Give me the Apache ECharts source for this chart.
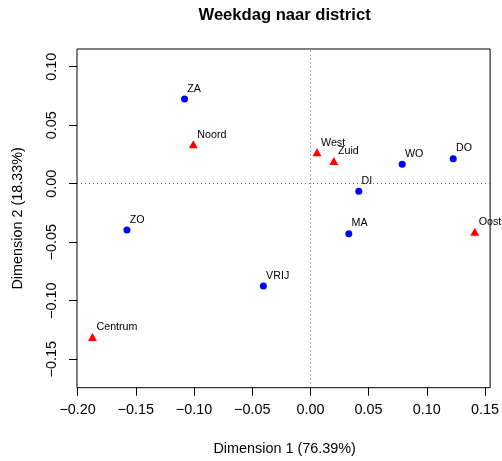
<!DOCTYPE html>
<html>
<head>
<meta charset="utf-8">
<script src="https://cdn.jsdelivr.net/npm/echarts@6/dist/echarts.min.js"></script>
<style>html,body{margin:0;padding:0;background:#fff}#c{width:502px;height:461px}</style>
</head>
<body>
<div id="c"></div>
<script>
// Row points (weekdays)
var rowLabels = ['ZA', 'ZO', 'VRIJ', 'MA', 'DI', 'WO', 'DO'];
var rowX = [-0.1081, -0.1576, -0.0404, 0.0330, 0.0416, 0.0789, 0.1227];
var rowY = [0.0724, -0.0395, -0.0874, -0.0427, -0.0065, 0.0166, 0.0214];
// Column points (districts)
var colLabels = ['Noord', 'West', 'Zuid', 'Oost', 'Centrum'];
var colX = [-0.1006, 0.0057, 0.0202, 0.1412, -0.1872];
var colY = [0.0337, 0.0268, 0.0194, -0.0410, -0.1310];
// Ticks
var xTicks = [-0.20, -0.15, -0.10, -0.05, 0.00, 0.05, 0.10, 0.15];
var yTicks = [-0.15, -0.10, -0.05, 0.00, 0.05, 0.10];

var FONT = 'Liberation Sans, Arial, Helvetica, sans-serif';
function fmt(v) {
  var s = Math.abs(v).toFixed(2);
  return (v < -1e-9 ? '\u2212' : '') + s;
}
function pts(xs, ys, ls) {
  return xs.map(function (x, i) { return { value: [x, ys[i]], name: ls[i] }; });
}
var chart = echarts.init(document.getElementById('c'), null, { renderer: 'canvas' });
chart.setOption({
  animation: false,
  backgroundColor: '#fff',
  grid: { left: 77, right: 9.5, top: 49, bottom: 73.3, show: true, borderColor: '#000', borderWidth: 1, backgroundColor: 'transparent' },
  xAxis: {
    type: 'value', min: -0.2005, max: 0.1544,
    axisLine: { show: false, onZero: false },
    splitLine: { show: false },
    axisTick: { show: true, inside: false, length: 8, lineStyle: { color: '#000' }, customValues: xTicks },
    axisLabel: { customValues: xTicks, formatter: fmt, fontSize: 14.4, color: '#000', fontFamily: FONT, margin: 15 }
  },
  yAxis: {
    type: 'value', min: -0.1743, max: 0.1151,
    axisLine: { show: false, onZero: false },
    splitLine: { show: false },
    axisTick: { show: true, inside: false, length: 8, lineStyle: { color: '#000' }, customValues: yTicks },
    axisLabel: { customValues: yTicks, formatter: fmt, fontSize: 14.4, color: '#000', fontFamily: FONT, rotate: 90, margin: 18 }
  },
  graphic: [
    { type: 'text', x: 284.6, y: 15, style: { text: 'Weekdag naar district', font: 'bold 16.6px ' + FONT, fill: '#000', align: 'center', verticalAlign: 'middle' } },
    { type: 'text', x: 284.6, y: 449, style: { text: 'Dimension 1 (76.39%)', font: '14.4px ' + FONT, fill: '#000', align: 'center', verticalAlign: 'middle' } },
    { type: 'text', x: 18, y: 218.4, rotation: Math.PI / 2, style: { text: 'Dimension 2 (18.33%)', font: '14.4px ' + FONT, fill: '#000', align: 'center', verticalAlign: 'middle' } }
  ],
  series: [
    {
      type: 'scatter', symbol: 'circle', symbolSize: 7,
      itemStyle: { color: '#0000FF', opacity: 1 },
      data: pts(rowX, rowY, rowLabels),
      label: { show: true, formatter: '{b}', position: [6.2, -1.2], align: 'left', verticalAlign: 'bottom', fontSize: 10.7, color: '#000', fontFamily: FONT },
      markLine: {
        silent: true, symbol: ['none', 'none'], animation: false,
        label: { show: false },
        lineStyle: { type: [1, 3], color: '#666', width: 1, opacity: 1 },
        data: [{ xAxis: 0 }, { yAxis: 0 }]
      },
      z: 3
    },
    {
      type: 'scatter', symbol: 'triangle', symbolSize: [9, 8],
      itemStyle: { color: '#FF0000', opacity: 1 },
      data: pts(colX, colY, colLabels),
      label: { show: true, formatter: '{b}', position: [8.5, -0.2], align: 'left', verticalAlign: 'bottom', fontSize: 10.7, color: '#000', fontFamily: FONT },
      z: 3
    }
  ]
});
</script>
</body>
</html>
